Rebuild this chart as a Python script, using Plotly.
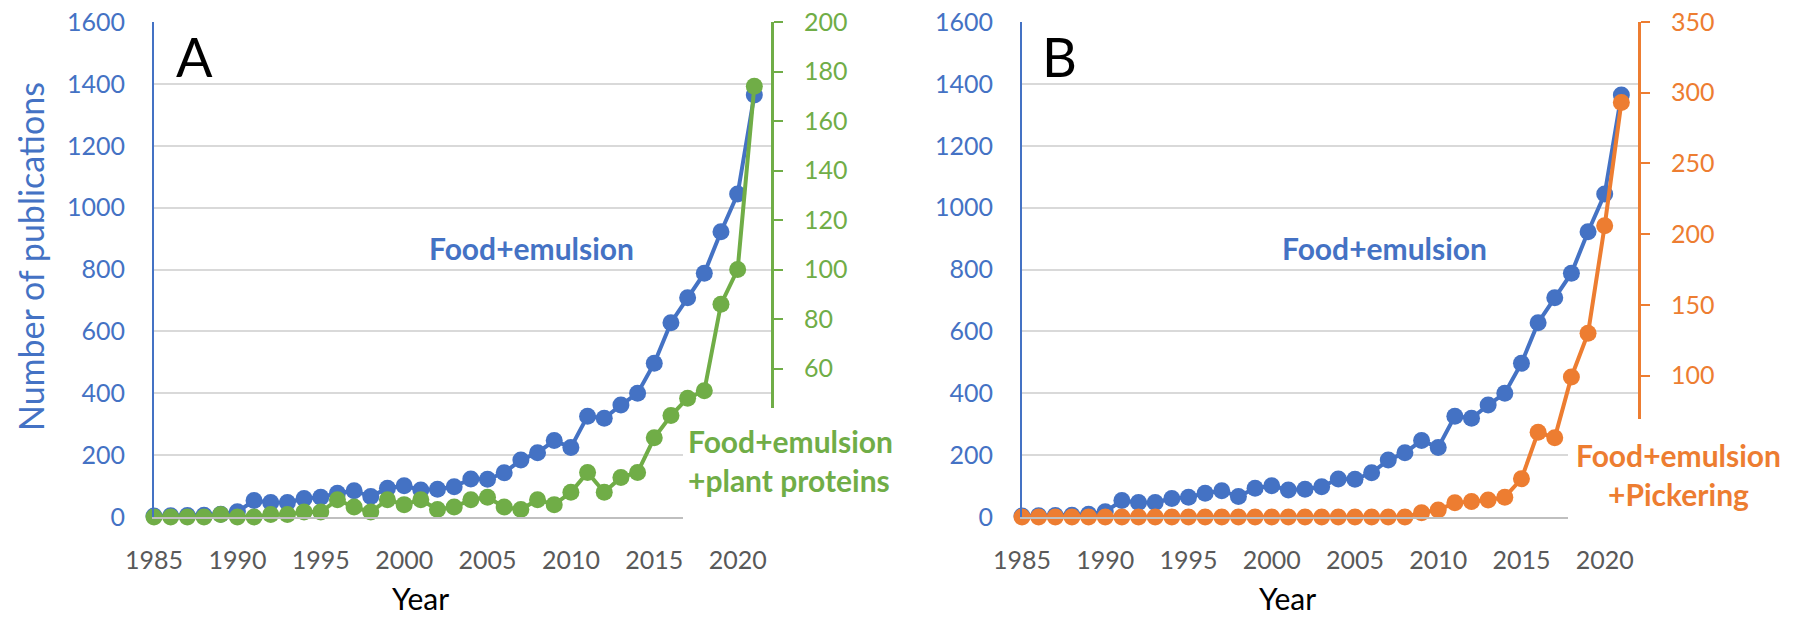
import plotly.graph_objects as go

W, H = 1797, 618

years = list(range(1985, 2022))
food_emulsion = [3, 4, 5, 6, 9, 17, 53, 47, 47, 60, 64, 77, 85, 66, 93, 101, 87, 90, 98,
                 123, 122, 143, 184, 208, 247, 225, 326, 319, 362, 400, 497, 628, 709, 788,
                 922, 1044, 1364]
plant_proteins = [0, 0, 0, 0, 1, 0, 0, 1, 1, 2, 2, 7, 4, 2, 7, 5, 7, 3, 4,
                  7, 8, 4, 3, 7, 5, 10, 18, 10, 16, 18, 32, 41, 48, 51, 86, 100, 174]
pickering = [0] * 24 + [3, 5, 10, 11, 12, 14, 27, 60, 56, 99, 130, 206, 293]

x_ticks = [1985, 1990, 1995, 2000, 2005, 2010, 2015, 2020]
left_ticks = [0, 200, 400, 600, 800, 1000, 1200, 1400, 1600]
green_ticks = [60, 80, 100, 120, 140, 160, 180, 200]
orange_ticks = [100, 150, 200, 250, 300, 350]

BLUE = "#4472C4"
GREEN = "#70AD47"
ORANGE = "#ED7D31"
FONT = "Lato"

def px(x):
    return x / W

def py(y):
    return 1 - y / H

ydom = [py(517), py(22)]
xdomA = [px(154), px(771)]
xdomB = [px(1022), px(1638)]

fig = go.Figure()

def series(x, y, color, xa, ya):
    return go.Scatter(x=x, y=y, mode="lines+markers", xaxis=xa, yaxis=ya,
                      line=dict(color=color, width=4),
                      marker=dict(color=color, size=17),
                      cliponaxis=False, showlegend=False)

fig.add_trace(series(years, food_emulsion, BLUE, "x", "y"))
fig.add_trace(series(years, plant_proteins, GREEN, "x", "y2"))
fig.add_trace(series(years, food_emulsion, BLUE, "x2", "y3"))
fig.add_trace(series(years, pickering, ORANGE, "x2", "y4"))

tickfont_x = dict(family=FONT, size=25, color="#595959")

def xaxis(dom, anchor):
    return dict(domain=dom, anchor=anchor, range=[1985, 2022], tickvals=x_ticks,
                showgrid=False, zeroline=False, showline=True, linecolor="#BFBFBF",
                linewidth=2, ticks="", tickfont=tickfont_x, ticklabelstandoff=20,
                automargin=False)

def yleft(anchor):
    return dict(domain=ydom, anchor=anchor, range=[0, 1600], tickvals=left_ticks,
                showgrid=True, gridcolor="#D9D9D9", gridwidth=2, zeroline=False,
                showline=True, linecolor=BLUE, linewidth=2, ticks="",
                tickfont=dict(family=FONT, size=25, color=BLUE), ticklabelstandoff=22,
                automargin=False)

def yright(anchor, overlay, rng, tv, color):
    return dict(domain=ydom, anchor=anchor, overlaying=overlay, side="right",
                range=rng, tickvals=tv, showgrid=False, zeroline=False,
                showline=True, linecolor=color, linewidth=3, ticks="outside",
                ticklen=9, tickwidth=2, tickcolor=color,
                tickfont=dict(family=FONT, size=25, color=color), ticklabelstandoff=16,
                automargin=False)

fig.update_layout(
    width=W, height=H, margin=dict(l=0, r=0, t=0, b=0, pad=0),
    paper_bgcolor="white", plot_bgcolor="white",
    xaxis=xaxis(xdomA, "y"),
    xaxis2=xaxis(xdomB, "y3"),
    yaxis=yleft("x"),
    yaxis2=yright("x", "y", [0, 200], green_ticks, GREEN),
    yaxis3=yleft("x2"),
    yaxis4=yright("x2", "y3", [0, 350], orange_ticks, ORANGE),
)

# white label backgrounds (cover gridlines / axis ends as in the original)
fig.add_shape(type="rect", xref="paper", yref="paper", layer="above",
              x0=px(683), x1=px(910), y0=py(530), y1=py(408),
              fillcolor="white", line=dict(width=0))
fig.add_shape(type="rect", xref="paper", yref="paper", layer="above",
              x0=px(1568), x1=px(1797), y0=py(530), y1=py(419),
              fillcolor="white", line=dict(width=0))

def ann(text, x, y, size, color, bold=False, xanchor="center", align="center", angle=0):
    if bold:
        text = "<b>" + text.replace("<br>", "</b><br><b>") + "</b>"
    fig.add_annotation(text=text, x=px(x), y=py(y), xref="paper", yref="paper",
                       showarrow=False, xanchor=xanchor, yanchor="middle", align=align,
                       textangle=angle, font=dict(family=FONT, size=size, color=color))

ann("A", 194, 56, 54, "black")
ann("B", 1059, 56, 54, "black")
ann("Number of publications", 30, 257, 34, BLUE, angle=-90)
ann("Year", 420, 598, 30, "black")
ann("Year", 1287, 598, 30, "black")
ann("Food+emulsion", 531, 248, 30, BLUE, bold=True)
ann("Food+emulsion", 1384, 248, 30, BLUE, bold=True)
ann("Food+emulsion<br>+plant proteins", 686, 460, 30, GREEN, bold=True,
    xanchor="left", align="left")
ann("Food+emulsion<br>+Pickering", 1678, 474, 30, ORANGE, bold=True)

fig.write_html("out.html", config={"displayModeBar": False},
               post_script="document.body.style.margin='0';")
